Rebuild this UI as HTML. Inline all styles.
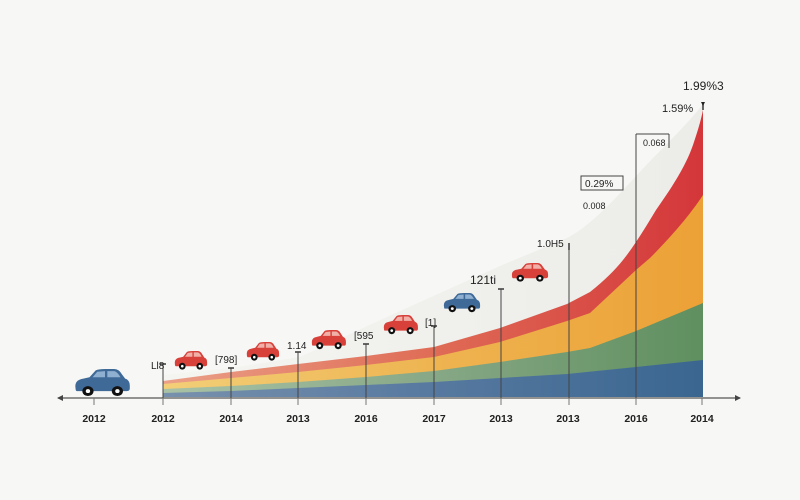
<!DOCTYPE html>
<html>
<head>
<meta charset="utf-8">
<style>
  html,body{margin:0;padding:0;background:#f7f7f5;}
  svg{display:block;}
  text{font-family:"Liberation Sans",sans-serif;}
</style>
</head>
<body>
<svg width="800" height="500" viewBox="0 0 800 500" xmlns="http://www.w3.org/2000/svg">
  <defs>
    <linearGradient id="gGray" x1="0" y1="0" x2="1" y2="0">
      <stop offset="0" stop-color="#f4f4f1"/>
      <stop offset="1" stop-color="#ececE8"/>
    </linearGradient>
    <linearGradient id="gRed" x1="163" y1="0" x2="703" y2="0" gradientUnits="userSpaceOnUse">
      <stop offset="0" stop-color="#eba088"/>
      <stop offset="0.5" stop-color="#df6c56"/>
      <stop offset="1" stop-color="#d4363a"/>
    </linearGradient>
    <linearGradient id="gOrange" x1="163" y1="0" x2="703" y2="0" gradientUnits="userSpaceOnUse">
      <stop offset="0" stop-color="#f3cf78"/>
      <stop offset="0.5" stop-color="#eeb451"/>
      <stop offset="1" stop-color="#eca136"/>
    </linearGradient>
    <linearGradient id="gGreen" x1="163" y1="0" x2="703" y2="0" gradientUnits="userSpaceOnUse">
      <stop offset="0" stop-color="#a9c2a6"/>
      <stop offset="0.5" stop-color="#87a886"/>
      <stop offset="1" stop-color="#5f8f5f"/>
    </linearGradient>
    <linearGradient id="gBlue" x1="163" y1="0" x2="703" y2="0" gradientUnits="userSpaceOnUse">
      <stop offset="0" stop-color="#7891ad"/>
      <stop offset="0.5" stop-color="#5779a0"/>
      <stop offset="1" stop-color="#3a6690"/>
    </linearGradient>
    <g id="redcar">
      <path d="M1,14 Q0,8 6,7 L10,6 L14,1 Q16,0 20,0 L26,0 Q29,0 31,4 L33,7 Q36,8 36,12 L36,14 Q36,16 34,16 L2,16 Q1,16 1,14 Z" fill="#d8403a"/>
      <path d="M15,2 L20,1.5 L20,6 L12,6 Z" fill="#f0b0a8"/>
      <path d="M21.5,1.5 L26,1.5 Q28,2 30,6 L21.5,6 Z" fill="#f0b0a8"/>
      <circle cx="9" cy="16" r="3.6" fill="#111"/>
      <circle cx="9" cy="16" r="1.4" fill="#fff"/>
      <circle cx="28" cy="16" r="3.6" fill="#111"/>
      <circle cx="28" cy="16" r="1.4" fill="#fff"/>
    </g>
    <g id="bluecar">
      <path d="M1,14 Q0,8 6,7 L10,6 L14,1 Q16,0 20,0 L26,0 Q29,0 31,4 L33,7 Q36,8 36,12 L36,14 Q36,16 34,16 L2,16 Q1,16 1,14 Z" fill="#3f6a98"/>
      <path d="M15,2 L20,1.5 L20,6 L12,6 Z" fill="#8fb0d0"/>
      <path d="M21.5,1.5 L26,1.5 Q28,2 30,6 L21.5,6 Z" fill="#8fb0d0"/>
      <circle cx="9" cy="16" r="3.6" fill="#111"/>
      <circle cx="9" cy="16" r="1.4" fill="#fff"/>
      <circle cx="28" cy="16" r="3.6" fill="#111"/>
      <circle cx="28" cy="16" r="1.4" fill="#fff"/>
    </g>
  </defs>

  <rect width="800" height="500" fill="#f7f7f5"/>

  <!-- stacked areas -->
  <path d="M163,397 L163,375 L231,368 L300,357 L400,311 L500,266 L567,238 C590,226 612,202 637,175 C660,150 688,124 703,104 L703,397 Z" fill="url(#gGray)"/>
  <path d="M163,397 L163,381 L231,372 L298,364 L366,356 L434,347 L500,328 L567,304 L590,292 C605,280 615,270 623,260 C635,245 645,228 656,210 C670,190 685,168 693,145 C698,130 701,120 703,110 L703,397 Z" fill="url(#gRed)"/>
  <path d="M163,397 L163,384 L231,378 L298,372 L366,365 L434,357 L500,342 L567,321 L590,313 L620,285 L636,270 L650,258 C670,238 690,215 703,195 L703,397 Z" fill="url(#gOrange)"/>
  <path d="M163,397 L163,389 L231,386 L298,382 L366,377 L434,371 L500,362 L567,352 L590,348 L636,331 L703,303 L703,397 Z" fill="url(#gGreen)"/>
  <path d="M163,397 L163,393 L231,391 L298,388 L366,385 L434,382 L500,378 L567,374 L636,367 L703,360 L703,397 Z" fill="url(#gBlue)"/>

  <!-- axis -->
  <line x1="58" y1="398" x2="740" y2="398" stroke="#555" stroke-width="1.2"/>
  <path d="M57,398 L63,395 L63,401 Z" fill="#444"/>
  <path d="M741,398 L735,395 L735,401 Z" fill="#444"/>

  <!-- axis ticks -->
  <g stroke="#777" stroke-width="1">
    <line x1="94" y1="398" x2="94" y2="405"/>
    <line x1="163" y1="398" x2="163" y2="405"/>
    <line x1="231" y1="398" x2="231" y2="405"/>
    <line x1="298" y1="398" x2="298" y2="405"/>
    <line x1="366" y1="398" x2="366" y2="405"/>
    <line x1="434" y1="398" x2="434" y2="405"/>
    <line x1="501" y1="398" x2="501" y2="405"/>
    <line x1="569" y1="398" x2="569" y2="405"/>
    <line x1="636" y1="398" x2="636" y2="405"/>
    <line x1="702" y1="398" x2="702" y2="405"/>
  </g>

  <!-- tick labels -->
  <g font-size="10.5" font-weight="bold" fill="#222" text-anchor="middle">
    <text x="94" y="422">2012</text>
    <text x="163" y="422">2012</text>
    <text x="231" y="422">2014</text>
    <text x="298" y="422">2013</text>
    <text x="366" y="422">2016</text>
    <text x="434" y="422">2017</text>
    <text x="501" y="422">2013</text>
    <text x="568" y="422">2013</text>
    <text x="636" y="422">2016</text>
    <text x="702" y="422">2014</text>
  </g>

  <!-- annotation lines -->
  <g stroke="#444" stroke-width="1">
    <line x1="163" y1="364" x2="163" y2="398"/>
    <line x1="160" y1="364" x2="166" y2="364" stroke-width="1.6"/>
    <line x1="231" y1="368" x2="231" y2="398"/>
    <line x1="228" y1="368" x2="234" y2="368" stroke-width="1.6"/>
    <line x1="298" y1="352" x2="298" y2="398"/>
    <line x1="295" y1="352" x2="301" y2="352" stroke-width="1.6"/>
    <line x1="366" y1="344" x2="366" y2="398"/>
    <line x1="363" y1="344" x2="369" y2="344" stroke-width="1.6"/>
    <line x1="434" y1="326" x2="434" y2="398"/>
    <line x1="431" y1="326" x2="437" y2="326" stroke-width="1.6"/>
    <line x1="501" y1="289" x2="501" y2="398"/>
    <line x1="498" y1="289" x2="504" y2="289" stroke-width="1.6"/>
    <line x1="569" y1="248" x2="569" y2="398"/>
    <line x1="569" y1="243" x2="569" y2="250" stroke-width="1.6"/>
    <line x1="636" y1="134" x2="636" y2="398"/>
    <line x1="636" y1="134" x2="669" y2="134"/>
    <line x1="669" y1="134" x2="669" y2="148"/>
    <line x1="703" y1="103" x2="703" y2="110" stroke-width="1.6"/>
  </g>
  <path d="M701,102 L705,102 L703,106 Z" fill="#222"/>
  <rect x="581" y="176" width="42" height="14" fill="none" stroke="#444" stroke-width="1"/>

  <!-- annotation labels -->
  <g font-size="10" fill="#222">
    <text x="151" y="369">Ll8</text>
    <text x="215" y="363">[798]</text>
    <text x="287" y="349">1.14</text>
    <text x="354" y="339">[595</text>
    <text x="425" y="326">[1]</text>
    <text x="470" y="284" font-size="12">121ti</text>
    <text x="537" y="247">1.0H5</text>
    <text x="643" y="146" font-size="9">0.068</text>
    <text x="585" y="187" font-size="10">0.29%</text>
    <text x="583" y="209" font-size="9">0.008</text>
    <text x="662" y="112" font-size="11">1.59%</text>
    <text x="683" y="90" font-size="12">1.99%3</text>
  </g>

  <!-- cars -->
  <g transform="translate(74,369) scale(1.55,1.38)"><use href="#bluecar"/></g>
  <g transform="translate(174,351) scale(0.92,0.95)"><use href="#redcar"/></g>
  <g transform="translate(246,342) scale(0.92,0.95)"><use href="#redcar"/></g>
  <g transform="translate(311,330) scale(0.97,0.98)"><use href="#redcar"/></g>
  <g transform="translate(383,315) scale(0.97,0.98)"><use href="#redcar"/></g>
  <g transform="translate(443,293) scale(1.03,0.98)"><use href="#bluecar"/></g>
  <g transform="translate(511,263) scale(1.03,0.95)"><use href="#redcar"/></g>
</svg>
</body>
</html>
